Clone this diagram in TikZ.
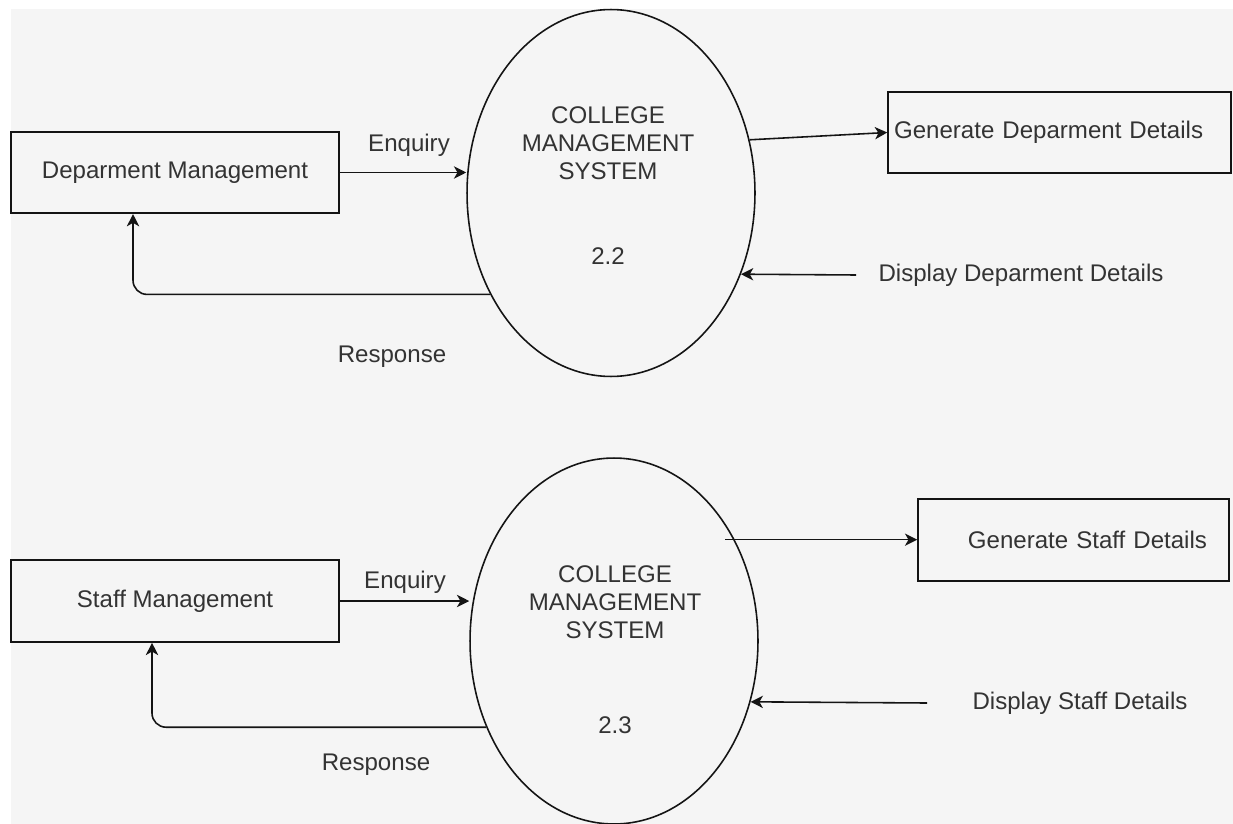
\documentclass[tikz,border=0pt]{standalone}
\usepackage{fontspec}
\setmainfont{Liberation Sans}
\usetikzlibrary{shapes.geometric, positioning, arrows.meta}
\definecolor{myGray}{RGB}{245,245,245}
\definecolor{myText}{RGB}{51,51,51}
\definecolor{myLine}{RGB}{20,20,20}
\newcommand{\dfdFont}{\fontsize{13.7}{15.9}\selectfont}
\tikzset{entityNode/.style={shape=rectangle, draw=myLine, line width=0.9pt, text=myText, font=\dfdFont, inner sep=0pt, minimum width=6.56cm, minimum height=1.63cm}}
\tikzset{processNode/.style={shape=ellipse, draw=myLine, line width=0.9pt, inner sep=0pt, minimum width=5.76cm, minimum height=7.34cm}}
\tikzset{flowLabel/.style={shape=rectangle, align=center, text=myText, font=\dfdFont, inner sep=0pt, draw=none}}

\begin{document}
\begin{tikzpicture}[x=0.02cm, y=-0.02cm,
  flow/.style={draw=myLine, line width=0.9pt, -{Stealth[length=7pt, width=7pt, inset=2pt]}}]

\useasboundingbox (0,0) rectangle (1233,824);
\fill[myGray] (11,9) rectangle (1233,824);

% Department process
\node[entityNode] (dept) at (175,172.5) {Deparment Management};
\node[processNode] (cms1) at (611,193) {};
\node[flowLabel] (cms1Title) at (608,143) {COLLEGE\\MANAGEMENT\\SYSTEM};
\node[flowLabel] (cms1Num) at (608,256) {2.2};
\node[entityNode, minimum width=6.86cm, text width=6.62cm, align=left, inner xsep=0.12cm] (genDept) at (1059.5,132.5) {Generate Deparment Details};
\node[flowLabel] (enqDept) at (409,145) {Enquiry};
\node[flowLabel] (respDept) at (392,357) {Response};
\node[flowLabel] (dispDept) at (1021,275) {Display Deparment Details};

\draw[flow] (dept.east) -- (dept.east -| cms1.west);
\draw[flow, rounded corners=8pt] (cms1.220) -| ([xshift=-0.84cm]dept.south);
\draw[flow] (cms1.21) -- (genDept.west);
\draw[flow] ([xshift=-0.44cm]dispDept.west) -- (cms1.-32);

% Staff process
\node[entityNode, minimum height=1.64cm] (staff) at (175,601) {Staff Management};
\node[processNode, minimum height=7.32cm] (cms2) at (614,641) {};
\node[flowLabel] (cms2Title) at (615,602) {COLLEGE\\MANAGEMENT\\SYSTEM};
\node[flowLabel] (cms2Num) at (615,725) {2.3};
\node[entityNode, minimum width=6.22cm, minimum height=1.64cm, text width=5.34cm, align=right, inner xsep=0.44cm] (genStaff) at (1073.5,540) {Generate Staff Details};
\node[flowLabel] (enqStaff) at (405,582) {Enquiry};
\node[flowLabel] (respStaff) at (376,765) {Response};
\node[flowLabel] (dispStaff) at (1080,703) {Display Staff Details};

\draw[flow] (staff.east) -- (staff.east -| cms2.west);
\draw[flow, rounded corners=8pt] (cms2.214) -| ([xshift=-0.46cm]staff.south);
\draw[flow] ([xshift=-0.19cm]cms2.40) -- (cms2.40 -| genStaff.west);
\draw[flow] ([xshift=-0.9cm]dispStaff.west) -- (cms2.-24);

\end{tikzpicture}
\end{document}
